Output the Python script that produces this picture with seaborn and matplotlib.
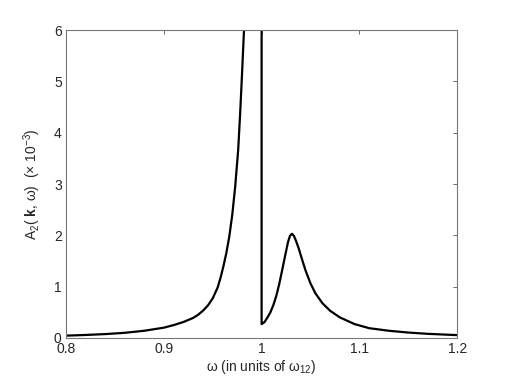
import numpy as np
import pandas as pd
import seaborn as sns
import matplotlib.pyplot as plt

# values (A2 in units of 1e-3)
omega_left = [0.80, 0.82, 0.84, 0.86, 0.88, 0.90, 0.91, 0.92, 0.93, 0.935, 0.94,
              0.945, 0.95, 0.955, 0.958, 0.961, 0.964, 0.967, 0.970, 0.973, 0.976,
              0.978, 0.980, 0.982, 0.984, 0.986]
a2_left = [0.045, 0.058, 0.075, 0.10, 0.14, 0.20, 0.25, 0.31, 0.39, 0.45, 0.53,
           0.63, 0.77, 0.98, 1.17, 1.40, 1.66, 1.98, 2.40, 2.95, 3.65,
           4.35, 5.15, 6.00, 6.90, 8.00]

# spike at omega = 1 goes off the top of the axes
omega_spike = [0.9995, 1.0, 1.0]
a2_spike = [60.0, 60.0, 0.27]

omega_right = [1.003, 1.006, 1.009, 1.012, 1.015, 1.018, 1.021, 1.024, 1.027, 1.029,
               1.031, 1.033, 1.035, 1.038, 1.041, 1.045, 1.050, 1.055, 1.062, 1.070,
               1.080, 1.095, 1.110, 1.130, 1.150, 1.170, 1.200]
a2_right = [0.31, 0.40, 0.50, 0.64, 0.82, 1.05, 1.32, 1.60, 1.87, 1.99,
            2.03, 1.99, 1.90, 1.74, 1.55, 1.31, 1.06, 0.87, 0.68, 0.53,
            0.40, 0.27, 0.19, 0.14, 0.105, 0.08, 0.055]

x_ticks = [0.8, 0.9, 1.0, 1.1, 1.2]
x_tick_labels = ['0.8', '0.9', '1', '1.1', '1.2']
y_ticks = [0, 1, 2, 3, 4, 5, 6]

df = pd.DataFrame({
    'omega': omega_left + omega_spike + omega_right,
    'A2': a2_left + a2_spike + a2_right,
})

sns.set_style('white')
plt.rcParams['font.family'] = ['Liberation Sans', 'DejaVu Sans']
plt.rcParams['mathtext.fontset'] = 'custom'
plt.rcParams['mathtext.rm'] = 'Liberation Sans'
plt.rcParams['mathtext.it'] = 'Liberation Sans'
plt.rcParams['mathtext.bf'] = 'Liberation Sans:bold'

fig = plt.figure(figsize=(5.07, 3.81), dpi=100)
ax = fig.add_axes([0.130, 0.113, 0.772, 0.808])

sns.lineplot(data=df, x='omega', y='A2', sort=False, estimator=None,
             color='black', linewidth=1.6, ax=ax)

ax.set_xlim(0.8, 1.2)
ax.set_ylim(0, 6)
ax.set_xticks(x_ticks)
ax.set_xticklabels(x_tick_labels)
ax.set_yticks(y_ticks)
ax.tick_params(direction='in', length=3, width=0.6, labelsize=10,
               top=True, right=True, color='#555555', pad=3)
for s in ax.spines.values():
    s.set_color('#777777')
    s.set_linewidth(0.8)

ax.set_xlabel('ω (in units of ω$_{12}$)', fontsize=10, labelpad=1)
ax.set_ylabel('A$_2$( $\\mathbf{k}$, ω)  (× 10$^{-3}$)', fontsize=10, labelpad=8)

fig.savefig('out.png', dpi=100)
